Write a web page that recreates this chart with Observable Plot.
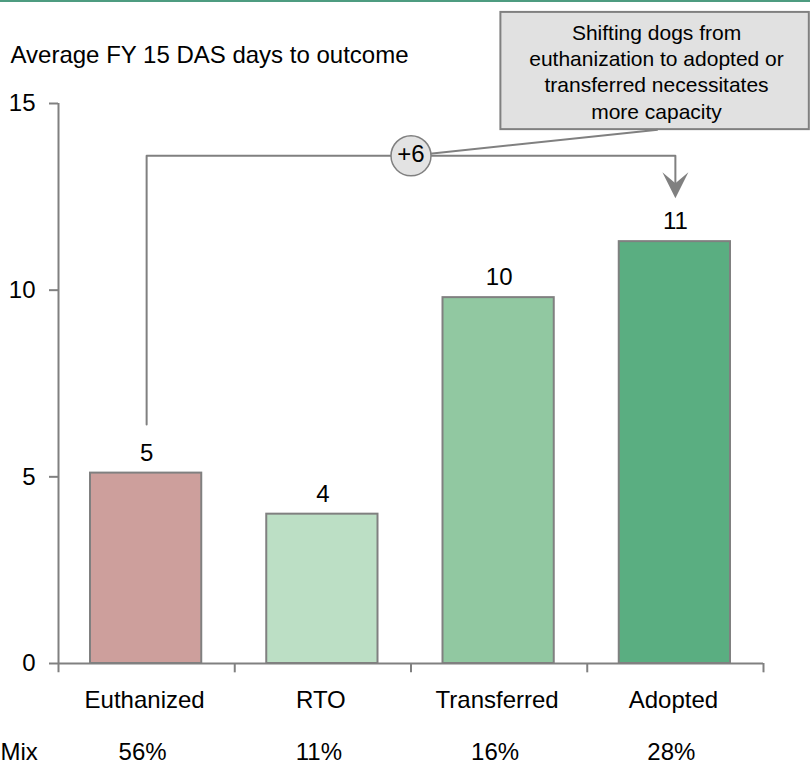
<!DOCTYPE html>
<html>
<head>
<meta charset="utf-8">
<script src="https://cdn.jsdelivr.net/npm/d3@7"></script>
<script src="https://cdn.jsdelivr.net/npm/@observablehq/plot@0.6"></script>
<style>
  body { margin: 0; background: #ffffff; }
  #wrap { position: relative; width: 810px; height: 765px; overflow: hidden; background: #ffffff; }
  #topline { position: absolute; left: 0; top: 0; width: 810px; height: 2px; background: #4e9c80; z-index: 2; }
  #wrap svg { position: absolute; left: 0; top: 0; }
</style>
</head>
<body>
<div id="wrap"><div id="topline"></div></div>
<script>
// ---- data ----
const categories = ["Euthanized", "RTO", "Transferred", "Adopted"];
const days = [5.1, 4.0, 9.8, 11.3];
const dayLabels = ["5", "4", "10", "11"];
const mixShares = ["56%", "11%", "16%", "28%"];
const barColors = ["#cd9f9c", "#bcdfc5", "#91c8a1", "#5aae81"];
const yTicks = [0, 5, 10, 15];
const titleText = "Average FY 15 DAS days to outcome";
const mixLabel = "Mix";
const deltaLabel = "+6";
const calloutText = "Shifting dogs from\neuthanization to adopted or\ntransferred necessitates\nmore capacity";

// ---- table built from the arrays ----
const rows = categories.map((c, i) => ({
  category: c, i, value: days[i], label: dayLabels[i], mix: mixShares[i], color: barColors[i]
}));
const iFrom = categories.indexOf("Euthanized");
const iTo = categories.indexOf("Adopted");
const bracketLevel = 13.6;
const bracket = [
  {x: iFrom + 0.5, y: 6.4},
  {x: iFrom + 0.5, y: bracketLevel},
  {x: iTo + 0.5, y: bracketLevel},
  {x: iTo + 0.5, y: 12.8}
];
const circlePos = {x: 2, y: bracketLevel};
const callout = {x1: 2.51, x2: 4.26, y1: 14.3, y2: 17.44, cx: 3.393, ty: 17.2, lx: 3.4};

const gray = "#808080";
const font = "Arial, 'Liberation Sans', Helvetica, sans-serif";

const arrowHead = {
  draw(ctx) {
    ctx.moveTo(0, 0);
    ctx.lineTo(-13, -26);
    ctx.lineTo(0, -15);
    ctx.lineTo(13, -26);
    ctx.closePath();
  }
};

const chart = Plot.plot({
  width: 810,
  height: 765,
  marginLeft: 58,
  marginRight: 47,
  marginTop: 103,
  marginBottom: 102,
  style: {fontFamily: font, fontSize: "24px", color: "#000", background: "transparent", overflow: "visible"},
  x: {domain: [0, categories.length], axis: null},
  y: {domain: [0, 15], axis: null},
  color: {type: "identity"},
  marks: [
    // bars
    Plot.rectY(rows, {
      x1: "i", x2: d => d.i + 1, y1: 0, y2: "value",
      fill: "color", stroke: gray, strokeWidth: 2,
      insetLeft: 32, insetRight: 33
    }),
    // axes lines and ticks
    Plot.ruleY([0], {stroke: gray, strokeWidth: 2}),
    Plot.ruleX([0], {y1: -0.25, y2: 15, stroke: gray, strokeWidth: 2}),
    Plot.ruleX(d3.range(1, categories.length + 1), {y1: -0.25, y2: 0, stroke: gray, strokeWidth: 2}),
    Plot.axisY(yTicks, {
      tickSize: 9, tickPadding: 14, stroke: gray, strokeWidth: 2,
      fill: "#000", fontSize: 24, tickFormat: d => String(d), label: null
    }),
    // bar value labels
    Plot.text(rows, {
      x: d => d.i + 0.5, y: "value", text: "label",
      lineAnchor: "middle", dy: -20, fontSize: 24, fill: "#000"
    }),
    // category labels
    Plot.text(rows, {
      x: d => d.i + 0.5, y: () => 0, text: "category",
      lineAnchor: "middle", dy: 37, dx: -2, fontSize: 24, fill: "#000"
    }),
    // mix row
    Plot.text(rows, {
      x: d => d.i + 0.5, y: () => 0, text: "mix",
      lineAnchor: "middle", dy: 89, dx: -4, fontSize: 24, fill: "#000"
    }),
    Plot.text([mixLabel], {
      x: () => 0, y: () => 0, text: d => d,
      textAnchor: "start", lineAnchor: "middle", dx: -58, dy: 89, fontSize: 24, fill: "#000"
    }),
    // title
    Plot.text([titleText], {
      x: () => 0, y: () => 15, text: d => d,
      textAnchor: "start", lineAnchor: "middle", dx: -48, dy: -48, fontSize: 24, fill: "#000"
    }),
    // callout box
    Plot.rect([callout], {
      x1: "x1", x2: "x2", y1: "y1", y2: "y2",
      fill: "#e1e1e1", stroke: gray, strokeWidth: 2
    }),
    Plot.text([calloutText], {
      x: () => callout.cx, y: () => callout.ty, text: d => d,
      textAnchor: "middle", lineAnchor: "top", lineHeight: 1.25, fontSize: 21, fill: "#000"
    }),
    // leader from circle to callout
    Plot.link([{x1: circlePos.x, y1: circlePos.y, x2: callout.lx, y2: callout.y1}], {
      x1: "x1", y1: "y1", x2: "x2", y2: "y2", stroke: gray, strokeWidth: 2
    }),
    // bracket
    Plot.line(bracket, {x: "x", y: "y", stroke: gray, strokeWidth: 2, curve: "linear"}),
    Plot.dot([{x: iTo + 0.5, y: 12.46}], {x: "x", y: "y", symbol: arrowHead, fill: gray, stroke: "none"}),
    // delta circle
    Plot.dot([circlePos], {x: "x", y: "y", r: 20, fill: "#e3e3e3", stroke: gray, strokeWidth: 1.5}),
    Plot.text([circlePos], {
      x: "x", y: "y", text: () => deltaLabel, lineAnchor: "middle", fontSize: 24, fill: "#000", dy: -1
    })
  ]
});

document.getElementById("wrap").appendChild(chart);
</script>
</body>
</html>
